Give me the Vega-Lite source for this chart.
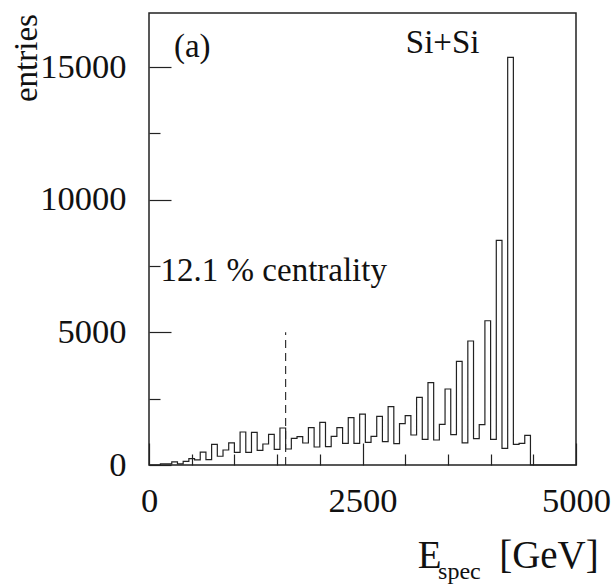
{
  "$schema": "https://vega.github.io/schema/vega-lite/v6.json",
  "width": 427,
  "height": 452,
  "autosize": {"type": "none"},
  "padding": {"left": 149, "top": 13, "right": 36, "bottom": 120},
  "background": "white",
  "config": {
    "view": {"stroke": "#222", "strokeWidth": 1.5},
    "axis": {"grid": false, "domain": false, "title": null, "labelFont": "Liberation Serif", "labelFontSize": 34.5, "labelColor": "#111", "tickColor": "#222", "tickWidth": 1.2}
  },
  "datasets": {
    "hist": [
      {"lo": 0, "n": 0}, {"lo": 66.67, "n": 0}, {"lo": 133.33, "n": 40}, {"lo": 200, "n": 40},
      {"lo": 266.67, "n": 120}, {"lo": 333.33, "n": 40}, {"lo": 400, "n": 140}, {"lo": 466.67, "n": 240},
      {"lo": 533.33, "n": 190}, {"lo": 600, "n": 485}, {"lo": 666.67, "n": 200}, {"lo": 733.33, "n": 780},
      {"lo": 800, "n": 330}, {"lo": 866.67, "n": 565}, {"lo": 933.33, "n": 835}, {"lo": 1000, "n": 478},
      {"lo": 1066.67, "n": 1244}, {"lo": 1133.33, "n": 478}, {"lo": 1200, "n": 1230}, {"lo": 1266.67, "n": 553},
      {"lo": 1333.33, "n": 791}, {"lo": 1400, "n": 1156}, {"lo": 1466.67, "n": 591}, {"lo": 1533.33, "n": 1395},
      {"lo": 1600, "n": 603}, {"lo": 1666.67, "n": 1005}, {"lo": 1733.33, "n": 1068}, {"lo": 1800, "n": 829},
      {"lo": 1866.67, "n": 1407}, {"lo": 1933.33, "n": 678}, {"lo": 2000, "n": 1608}, {"lo": 2066.67, "n": 690},
      {"lo": 2133.33, "n": 1081}, {"lo": 2200, "n": 1407}, {"lo": 2266.67, "n": 818}, {"lo": 2333.33, "n": 1784},
      {"lo": 2400, "n": 818}, {"lo": 2466.67, "n": 1920}, {"lo": 2533.33, "n": 855}, {"lo": 2600, "n": 1081},
      {"lo": 2666.67, "n": 1834}, {"lo": 2733.33, "n": 880}, {"lo": 2800, "n": 2199}, {"lo": 2866.67, "n": 804},
      {"lo": 2933.33, "n": 1558}, {"lo": 3000, "n": 1860}, {"lo": 3066.67, "n": 1131}, {"lo": 3133.33, "n": 2550},
      {"lo": 3200, "n": 967}, {"lo": 3266.67, "n": 3103}, {"lo": 3333.33, "n": 942}, {"lo": 3400, "n": 1533},
      {"lo": 3466.67, "n": 2865}, {"lo": 3533.33, "n": 1145}, {"lo": 3600, "n": 3909}, {"lo": 3666.67, "n": 835},
      {"lo": 3733.33, "n": 4674}, {"lo": 3800, "n": 991}, {"lo": 3866.67, "n": 1519}, {"lo": 3933.33, "n": 5439},
      {"lo": 4000, "n": 969}, {"lo": 4066.67, "n": 8470}, {"lo": 4133.33, "n": 629}, {"lo": 4200, "n": 15370},
      {"lo": 4266.67, "n": 780}, {"lo": 4333.33, "n": 818}, {"lo": 4400, "n": 1120}, {"lo": 4466.67, "n": 0},
      {"lo": 5000, "n": 0}
    ],
    "cut": [{"x": 1600, "y0": 0, "y1": 5000}],
    "notes": [
      {"label": "(a)", "x": 292, "y": 15379},
      {"label": "Si+Si", "x": 3007, "y": 15518},
      {"label": "12.1 % centrality", "x": 136, "y": 6950}
    ],
    "ylab": [{"label": "entries", "x": -1317, "y": 13683}],
    "xlab": [
      {"label": "E", "x": 3147, "y": -3882},
      {"label": "[GeV]", "x": 4100, "y": -3882}
    ],
    "xsub": [{"label": "spec", "x": 3385, "y": -4300}]
  },
  "layer": [
    {
      "data": {"name": "hist"},
      "mark": {"type": "line", "interpolate": "step-after", "color": "#222", "strokeWidth": 1.2},
      "encoding": {
        "x": {"field": "lo", "type": "quantitative", "scale": {"domain": [0, 5000], "nice": false},
              "axis": {"orient": "bottom", "values": [0, 2500, 5000], "format": "d", "ticks": false, "tickSize": 0, "labelPadding": 46, "labelBaseline": "alphabetic", "labelFlush": false, "labelOverlap": false}},
        "y": {"field": "n", "type": "quantitative", "scale": {"domain": [0, 17040], "nice": false},
              "axis": {"orient": "left", "values": [0, 5000, 10000, 15000], "format": "d", "ticks": false, "tickSize": 0, "labelPadding": 23, "labelBaseline": "middle", "labelFlush": false, "labelOverlap": false}}
      }
    },
    {
      "data": {"name": "cut"},
      "mark": {"type": "rule", "color": "#222", "strokeWidth": 1.1, "strokeDash": [8, 5]},
      "encoding": {
        "x": {"field": "x", "type": "quantitative", "scale": {"domain": [0, 5000], "nice": false},
              "axis": {"orient": "bottom", "values": [0, 2500, 5000], "labels": false, "tickSize": -22}},
        "y": {"field": "y0", "type": "quantitative", "scale": {"domain": [0, 17040], "nice": false},
              "axis": {"orient": "left", "values": [0, 5000, 10000, 15000], "labels": false, "tickSize": -22}},
        "y2": {"field": "y1"}
      }
    },
    {
      "data": {"name": "notes"},
      "mark": {"type": "text", "font": "Liberation Serif", "fontSize": 33, "color": "#111", "align": "left", "baseline": "alphabetic"},
      "encoding": {
        "x": {"field": "x", "type": "quantitative", "scale": {"domain": [0, 5000], "nice": false},
              "axis": {"orient": "bottom", "values": [500, 1000, 1500, 2000, 3000, 3500, 4000, 4500], "labels": false, "tickSize": -11}},
        "y": {"field": "y", "type": "quantitative", "scale": {"domain": [0, 17040], "nice": false},
              "axis": {"orient": "left", "values": [2500, 7500, 12500], "labels": false, "tickSize": -11}},
        "text": {"field": "label"}
      }
    },
    {
      "data": {"name": "ylab"},
      "mark": {"type": "text", "font": "Liberation Serif", "fontSize": 33, "color": "#111", "align": "left", "baseline": "alphabetic", "angle": 270},
      "encoding": {
        "x": {"field": "x", "type": "quantitative", "scale": {"domain": [0, 5000], "nice": false}, "axis": null},
        "y": {"field": "y", "type": "quantitative", "scale": {"domain": [0, 17040], "nice": false}, "axis": null},
        "text": {"field": "label"}
      }
    },
    {
      "data": {"name": "xlab"},
      "mark": {"type": "text", "font": "Liberation Serif", "fontSize": 39, "color": "#111", "align": "left", "baseline": "alphabetic"},
      "encoding": {
        "x": {"field": "x", "type": "quantitative", "scale": {"domain": [0, 5000], "nice": false}, "axis": null},
        "y": {"field": "y", "type": "quantitative", "scale": {"domain": [0, 17040], "nice": false}, "axis": null},
        "text": {"field": "label"}
      }
    },
    {
      "data": {"name": "xsub"},
      "mark": {"type": "text", "font": "Liberation Serif", "fontSize": 24, "color": "#111", "align": "left", "baseline": "alphabetic"},
      "encoding": {
        "x": {"field": "x", "type": "quantitative", "scale": {"domain": [0, 5000], "nice": false}, "axis": null},
        "y": {"field": "y", "type": "quantitative", "scale": {"domain": [0, 17040], "nice": false}, "axis": null},
        "text": {"field": "label"}
      }
    }
  ],
  "resolve": {"axis": {"x": "independent", "y": "independent"}}
}
